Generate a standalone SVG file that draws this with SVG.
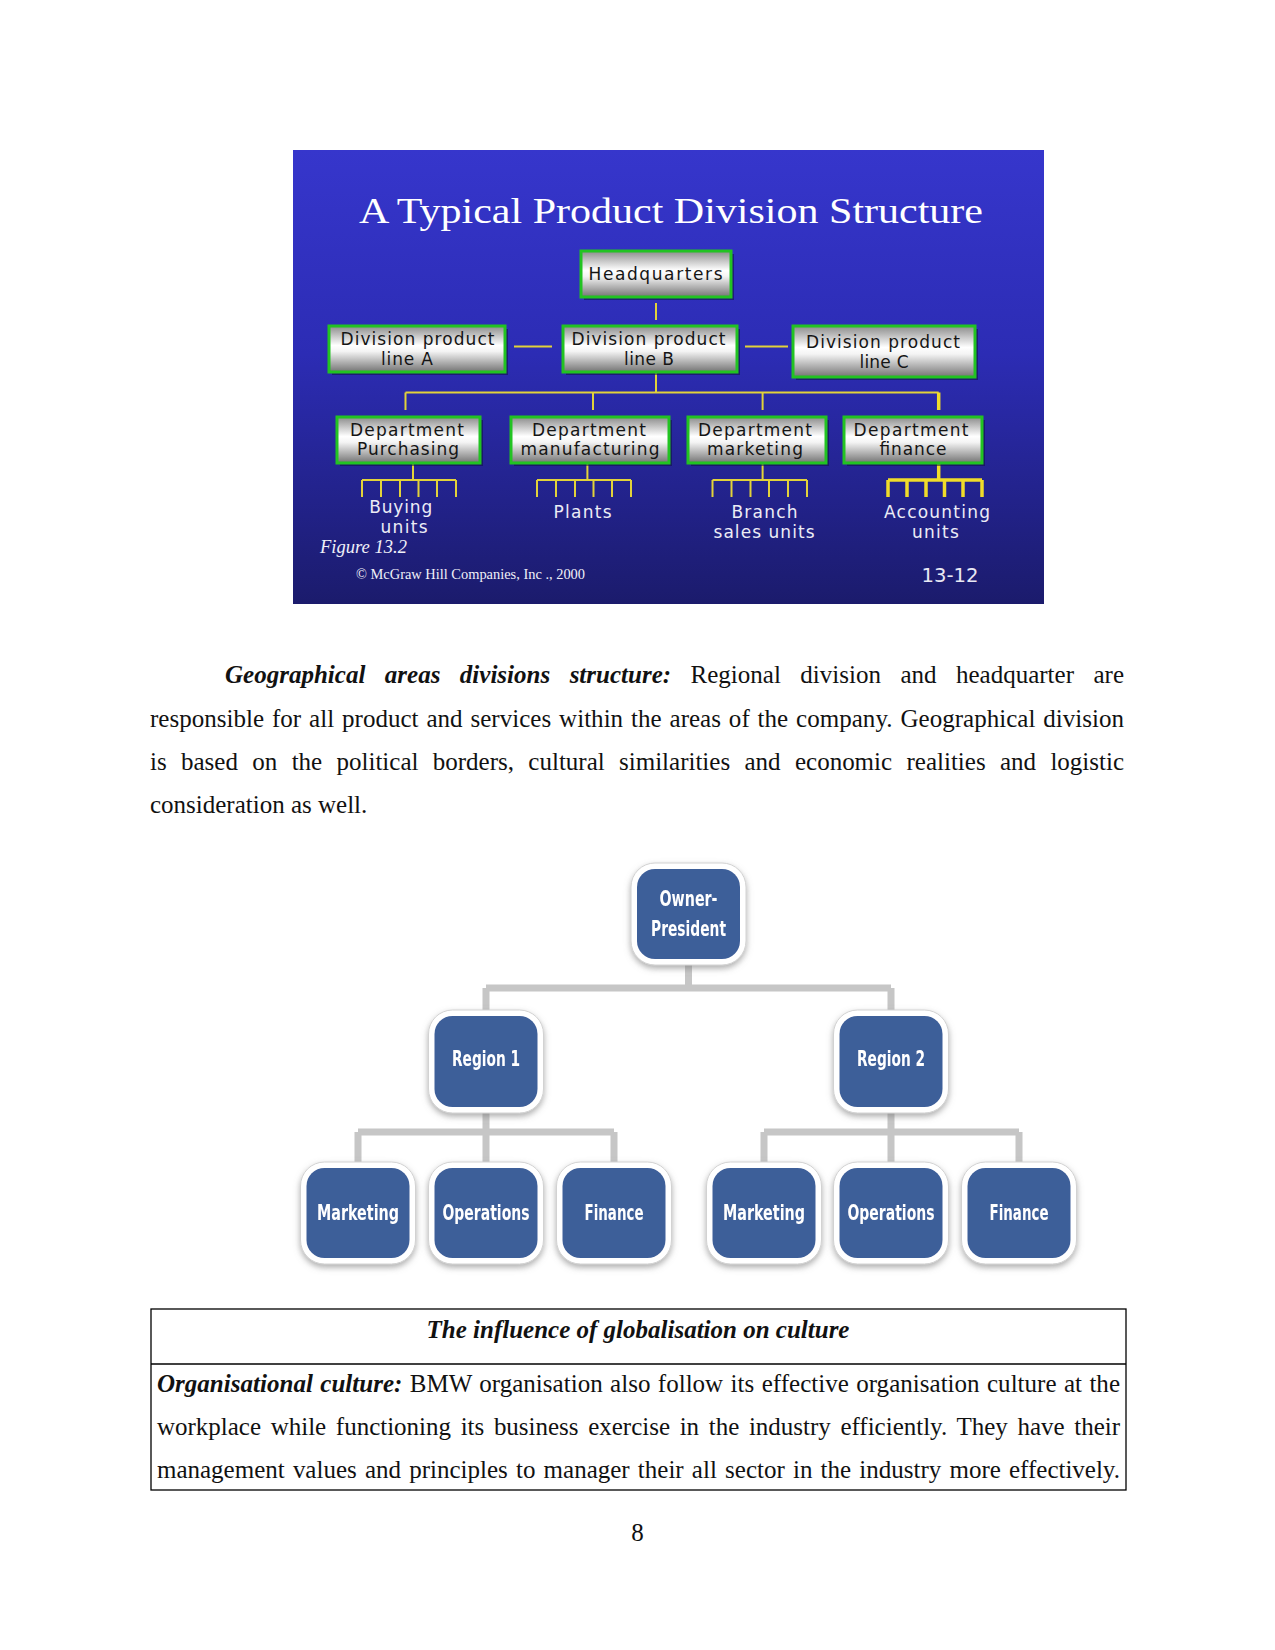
<svg xmlns="http://www.w3.org/2000/svg" width="1275" height="1650" viewBox="0 0 1275 1650">
<defs>
<linearGradient id="slideBg" x1="0" y1="0" x2="0" y2="1">
<stop offset="0" stop-color="#3636cc"/>
<stop offset="0.45" stop-color="#2c2cb4"/>
<stop offset="1" stop-color="#1b1b6c"/>
</linearGradient>
<linearGradient id="boxG" x1="0" y1="0" x2="0" y2="1">
<stop offset="0" stop-color="#8c8c8c"/>
<stop offset="0.42" stop-color="#ffffff"/>
<stop offset="0.55" stop-color="#f4f4f4"/>
<stop offset="1" stop-color="#747474"/>
</linearGradient>
<filter id="sh" x="-20%" y="-20%" width="140%" height="150%">
<feDropShadow dx="0" dy="3" stdDeviation="3" flood-color="#777" flood-opacity="0.6"/>
</filter>
<style>
.sbox{fill:url(#boxG);stroke:#22c322;stroke-width:3}
.sshadow{fill:#101040;opacity:0.55}
.stxt{font-family:"DejaVu Sans",sans-serif;font-size:17px;fill:#151515;text-anchor:middle}
.slbl{font-family:"DejaVu Sans",sans-serif;font-size:17px;fill:#ececf6;text-anchor:middle}
.yl{stroke:#e2d23a;stroke-width:2;fill:none}
.yb{stroke:#f0dc2a;stroke-width:3.5;fill:none}
.outer{fill:#ffffff;stroke:#d2d2d2;stroke-width:1}
.inner{fill:#3e5e99}
.ntxt{font-family:"Liberation Sans Narrow","DejaVu Sans Condensed","Liberation Sans",sans-serif;font-weight:bold;font-size:21px;fill:#ffffff;text-anchor:middle}
.gl{stroke:#c6c6c6;stroke-width:7;fill:none}
.p{font-family:"Liberation Serif","Times New Roman",serif;font-size:25px;fill:#111}
.bi{font-weight:bold;font-style:italic}
</style>
</defs>
<rect width="1275" height="1650" fill="#ffffff"/>

<!-- Slide -->
<g id="slide">
<rect x="293" y="150" width="751" height="454" fill="url(#slideBg)"/>
<text x="671" y="223" font-family="Liberation Serif,serif" font-size="36" fill="#ffffff" text-anchor="middle" textLength="624" lengthAdjust="spacingAndGlyphs">A Typical Product Division Structure</text>
<text x="320" y="553" font-family="Liberation Serif,serif" font-style="italic" font-size="18" fill="#f0f0f8" textLength="87" lengthAdjust="spacingAndGlyphs">Figure 13.2</text>
<text x="356" y="579" font-family="Liberation Serif,serif" font-size="14" fill="#f0f0f8" textLength="229" lengthAdjust="spacingAndGlyphs">© McGraw Hill Companies, Inc ., 2000</text>
<text x="950" y="582" font-family="DejaVu Sans,sans-serif" font-size="20" fill="#e8e8f4" text-anchor="middle" textLength="57" lengthAdjust="spacingAndGlyphs">13-12</text>
</g>

<g id="slide-connectors">
<path class="yl" d="M656 303V320M514 346.5H552M745 346.5H788M656 372V392.5M405.5 392.5H938.7M405.5 392.5V410M593 392.5V410M762.6 392.5V410"/>
<path class="yb" d="M938.7 392.5V410"/>
<path class="yl" d="M413 463V480M362 480H456M362 480V497M381 480V497M400 480V497M418.5 480V497M437 480V497M456 480V497"/>
<path class="yl" d="M587.4 463V480M537 480H631M537 480V497M556 480V497M575 480V497M593.5 480V497M612 480V497M631 480V497"/>
<path class="yl" d="M762.6 463V480M712.5 480H807M712.5 480V497M731.5 480V497M750.5 480V497M769 480V497M788 480V497M807 480V497"/>
<path class="yb" d="M938.7 463V480M888 480H982M888 480V497M907 480V497M926 480V497M944.5 480V497M963 480V497M982 480V497"/>
</g>

<g id="hq"><rect class="sshadow" x="584" y="254" width="150" height="46"/><rect class="sbox" x="581" y="251" width="150" height="46"/><text class="stxt" x="655.5" y="280" textLength="134" lengthAdjust="spacing">Headquarters</text></g>
<g id="div-a"><rect class="sshadow" x="332" y="329" width="176" height="46"/><rect class="sbox" x="329" y="326" width="176" height="46"/><text class="stxt" x="417.5" y="345" textLength="154" lengthAdjust="spacing">Division product</text><text class="stxt" x="407" y="365" textLength="52" lengthAdjust="spacing">line A</text></g>
<g id="div-b"><rect class="sshadow" x="566" y="329" width="174" height="46"/><rect class="sbox" x="563" y="326" width="174" height="46"/><text class="stxt" x="648.5" y="345" textLength="154" lengthAdjust="spacing">Division product</text><text class="stxt" x="649" y="365" textLength="50" lengthAdjust="spacing">line B</text></g>
<g id="div-c"><rect class="sshadow" x="796" y="329" width="182" height="51"/><rect class="sbox" x="793" y="326" width="182" height="51"/><text class="stxt" x="883" y="348" textLength="154" lengthAdjust="spacing">Division product</text><text class="stxt" x="884" y="367.5" textLength="49" lengthAdjust="spacing">line C</text></g>
<g id="dept-purchasing"><rect class="sshadow" x="340" y="420" width="143" height="46"/><rect class="sbox" x="337" y="417" width="143" height="46"/><text class="stxt" x="407" y="436" textLength="114" lengthAdjust="spacing">Department</text><text class="stxt" x="408" y="455" textLength="102" lengthAdjust="spacing">Purchasing</text></g>
<g id="dept-manufacturing"><rect class="sshadow" x="514" y="420" width="158" height="46"/><rect class="sbox" x="511" y="417" width="158" height="46"/><text class="stxt" x="589" y="436" textLength="114" lengthAdjust="spacing">Department</text><text class="stxt" x="590" y="455" textLength="139" lengthAdjust="spacing">manufacturing</text></g>
<g id="dept-marketing"><rect class="sshadow" x="691" y="420" width="138" height="46"/><rect class="sbox" x="688" y="417" width="138" height="46"/><text class="stxt" x="755" y="436" textLength="114" lengthAdjust="spacing">Department</text><text class="stxt" x="755" y="455" textLength="96" lengthAdjust="spacing">marketing</text></g>
<g id="dept-finance"><rect class="sshadow" x="847" y="420" width="138" height="46"/><rect class="sbox" x="844" y="417" width="138" height="46"/><text class="stxt" x="911" y="436" textLength="115" lengthAdjust="spacing">Department</text><text class="stxt" x="913" y="455" textLength="67" lengthAdjust="spacing">finance</text></g>

<g id="buying-units"><text class="slbl" x="400.7" y="513" textLength="63" lengthAdjust="spacing">Buying</text><text class="slbl" x="404" y="533" textLength="47" lengthAdjust="spacing">units</text></g>
<g id="plants"><text class="slbl" x="582.6" y="518" textLength="58" lengthAdjust="spacing">Plants</text></g>
<g id="branch-sales-units"><text class="slbl" x="764.5" y="518" textLength="66" lengthAdjust="spacing">Branch</text><text class="slbl" x="764" y="538" textLength="101" lengthAdjust="spacing">sales units</text></g>
<g id="accounting-units"><text class="slbl" x="937" y="518" textLength="106" lengthAdjust="spacing">Accounting</text><text class="slbl" x="935.4" y="538" textLength="47" lengthAdjust="spacing">units</text></g>

<!-- Paragraph -->
<g id="paragraph">
<text class="p" x="225" y="683" word-spacing="13.2" textLength="899" lengthAdjust="spacing"><tspan class="bi">Geographical areas divisions structure:</tspan> Regional division and headquarter are</text>
<text class="p" x="150" y="727" word-spacing="1.6" textLength="974" lengthAdjust="spacing">responsible for all product and services within the areas of the company. Geographical division</text>
<text class="p" x="150" y="770" word-spacing="8.1" textLength="974" lengthAdjust="spacing">is based on the political borders, cultural similarities and economic realities and logistic</text>
<text class="p" x="150" y="813">consideration as well.</text>
</g>

<!-- Geographic chart connectors -->
<g id="geo-connectors">
<path class="gl" d="M688.5 963V988M486 988H891M486 988V1012M891 988V1012"/>
<path class="gl" d="M486 1110V1132M358 1132H614M358 1132V1164M486 1132V1164M614 1132V1164"/>
<path class="gl" d="M891 1110V1132M764 1132H1019M764 1132V1164M891 1132V1164M1019 1132V1164"/>
</g>

<g id="owner-president" filter="url(#sh)"><rect class="outer" x="631" y="863" width="115" height="102" rx="24"/><rect class="inner" x="637" y="869" width="103" height="90" rx="18"/><text class="ntxt" x="688.5" y="906" textLength="58" lengthAdjust="spacingAndGlyphs">Owner-</text><text class="ntxt" x="688.5" y="936" textLength="75" lengthAdjust="spacingAndGlyphs">President</text></g>
<g id="region-1" filter="url(#sh)"><rect class="outer" x="428.5" y="1010" width="115" height="103" rx="24"/><rect class="inner" x="434.5" y="1016" width="103" height="91" rx="18"/><text class="ntxt" x="486" y="1066" textLength="68" lengthAdjust="spacingAndGlyphs">Region 1</text></g>
<g id="region-2" filter="url(#sh)"><rect class="outer" x="833.5" y="1010" width="115" height="103" rx="24"/><rect class="inner" x="839.5" y="1016" width="103" height="91" rx="18"/><text class="ntxt" x="891" y="1066" textLength="68" lengthAdjust="spacingAndGlyphs">Region 2</text></g>
<g id="marketing-1" filter="url(#sh)"><rect class="outer" x="300.5" y="1162" width="115" height="102" rx="24"/><rect class="inner" x="306.5" y="1168" width="103" height="90" rx="18"/><text class="ntxt" x="358" y="1220" textLength="82" lengthAdjust="spacingAndGlyphs">Marketing</text></g>
<g id="operations-1" filter="url(#sh)"><rect class="outer" x="428.5" y="1162" width="115" height="102" rx="24"/><rect class="inner" x="434.5" y="1168" width="103" height="90" rx="18"/><text class="ntxt" x="486" y="1220" textLength="87" lengthAdjust="spacingAndGlyphs">Operations</text></g>
<g id="finance-1" filter="url(#sh)"><rect class="outer" x="556.5" y="1162" width="115" height="102" rx="24"/><rect class="inner" x="562.5" y="1168" width="103" height="90" rx="18"/><text class="ntxt" x="614" y="1220" textLength="59" lengthAdjust="spacingAndGlyphs">Finance</text></g>
<g id="marketing-2" filter="url(#sh)"><rect class="outer" x="706.5" y="1162" width="115" height="102" rx="24"/><rect class="inner" x="712.5" y="1168" width="103" height="90" rx="18"/><text class="ntxt" x="764" y="1220" textLength="82" lengthAdjust="spacingAndGlyphs">Marketing</text></g>
<g id="operations-2" filter="url(#sh)"><rect class="outer" x="833.5" y="1162" width="115" height="102" rx="24"/><rect class="inner" x="839.5" y="1168" width="103" height="90" rx="18"/><text class="ntxt" x="891" y="1220" textLength="87" lengthAdjust="spacingAndGlyphs">Operations</text></g>
<g id="finance-2" filter="url(#sh)"><rect class="outer" x="961.5" y="1162" width="115" height="102" rx="24"/><rect class="inner" x="967.5" y="1168" width="103" height="90" rx="18"/><text class="ntxt" x="1019" y="1220" textLength="59" lengthAdjust="spacingAndGlyphs">Finance</text></g>

<!-- Table -->
<g id="table">
<rect x="151" y="1309" width="975" height="181" fill="none" stroke="#000" stroke-width="1.3"/>
<line x1="151" y1="1364" x2="1126" y2="1364" stroke="#000" stroke-width="1.3"/>
<text class="p bi" x="638" y="1338" text-anchor="middle">The influence of globalisation on culture</text>
<text class="p" x="157" y="1392" word-spacing="1.1" textLength="963" lengthAdjust="spacing"><tspan class="bi">Organisational culture:</tspan> BMW organisation also follow its effective organisation culture at the</text>
<text class="p" x="157" y="1435" word-spacing="3.4" textLength="963" lengthAdjust="spacing">workplace while functioning its business exercise in the industry efficiently. They have their</text>
<text class="p" x="157" y="1478" word-spacing="2.0" textLength="963" lengthAdjust="spacing">management values and principles to manager their all sector in the industry more effectively.</text>
</g>

<text class="p" x="637.5" y="1541" text-anchor="middle">8</text>
</svg>
